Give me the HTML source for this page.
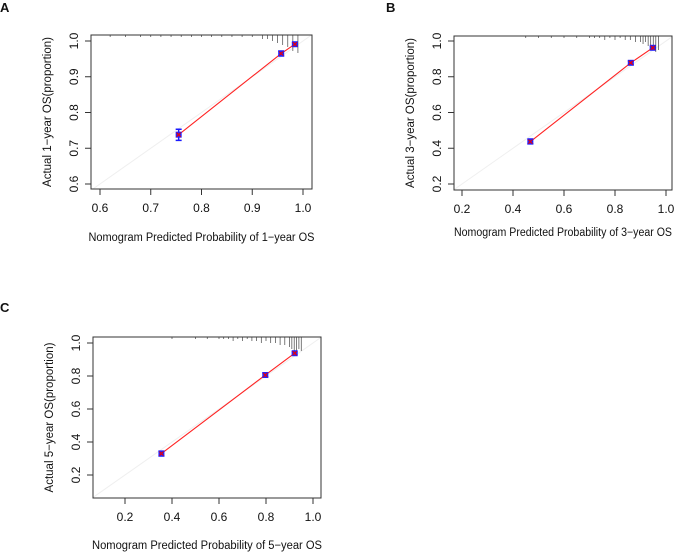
<!DOCTYPE html>
<html><head><meta charset="utf-8">
<style>
body{margin:0;background:#fff;}
svg text{font-family:"Liberation Sans",Arial,sans-serif;fill:#111;}
</style></head>
<body>
<svg id="fig" width="678" height="555" viewBox="0 0 678 555">
<text x="0" y="12" font-size="13" font-weight="bold">A</text>
<text x="386" y="12" font-size="13" font-weight="bold">B</text>
<text x="0" y="312" font-size="13" font-weight="bold">C</text>
</svg>
<script>
// Panel A data
const aLabel = "1";
const aPredicted = [0.755, 0.957, 0.984];
const aObserved = [0.738, 0.965, 0.991];
const aLower = [0.722, 0.958, 0.987];
const aUpper = [0.753, 0.972, 0.995];
const aXTicks = [0.6, 0.7, 0.8, 0.9, 1.0];
const aYTicks = [0.6, 0.7, 0.8, 0.9, 1.0];
const aRug = [0.62,0.65,0.68,0.7,0.72,0.74,0.76,0.78,0.8,0.82,0.84,0.86,0.88,0.9,0.92,0.93,0.94,0.95,0.96,0.97,0.98,0.99];
const aRugLen = [1,1,1,1,1,1,1,1,1,1,1,1,1,1,2,2,3,4,5,6,8,9];
// Panel B data
const bLabel = "3";
const bPredicted = [0.468, 0.862, 0.948];
const bObserved = [0.437, 0.878, 0.962];
const bLower = [0.425, 0.868, 0.955];
const bUpper = [0.452, 0.888, 0.968];
const bXTicks = [0.2, 0.4, 0.6, 0.8, 1.0];
const bYTicks = [0.2, 0.4, 0.6, 0.8, 1.0];
const bRug = [0.45,0.5,0.55,0.6,0.65,0.7,0.72,0.74,0.76,0.78,0.8,0.82,0.84,0.86,0.88,0.9,0.91,0.92,0.93,0.94,0.95,0.96,0.97];
const bRugLen = [1,1,1,1,1,1,1,1,2,1,2,1,2,2,3,3,4,3,5,6,7,8,7];
// Panel C data
const cLabel = "5";
const cPredicted = [0.355, 0.797, 0.922];
const cObserved = [0.330, 0.806, 0.938];
const cLower = [0.315, 0.795, 0.930];
const cUpper = [0.345, 0.818, 0.946];
const cXTicks = [0.2, 0.4, 0.6, 0.8, 1.0];
const cYTicks = [0.2, 0.4, 0.6, 0.8, 1.0];
const cRug = [0.4,0.5,0.55,0.6,0.62,0.64,0.66,0.68,0.7,0.72,0.74,0.76,0.78,0.8,0.82,0.84,0.86,0.88,0.9,0.91,0.92,0.93,0.94,0.95];
const cRugLen = [1,1,1,1,1,1,2,1,2,1,2,2,3,2,3,3,4,4,5,6,8,8,6,7];

const NS = "http://www.w3.org/2000/svg";
const svg = document.getElementById('fig');
function mk(tag, attrs, parent){const e=document.createElementNS(NS,tag);for(const k in attrs)e.setAttribute(k,attrs[k]);(parent||svg).appendChild(e);return e;}

function panel(name, box, xDom, xPx, yDom, yPx, label, pred, obs, lo, hi, xt, yt, rug, rugLen, xTitleY, xTitleW){
  const g = mk('g',{});
  
  
  const X = v => xPx[0] + (v - xDom[0]) / (xDom[1]-xDom[0]) * (xPx[1]-xPx[0]);
  const Y = v => yPx[0] + (v - yDom[0]) / (yDom[1]-yDom[0]) * (yPx[1]-yPx[0]);
  const [L,T,R,B] = box;
  const lo0 = Math.max((L - xPx[0])/(xPx[1]-xPx[0])*(xDom[1]-xDom[0])+xDom[0], (B - yPx[0])/(yPx[1]-yPx[0])*(yDom[1]-yDom[0])+yDom[0]);
  const hi0 = Math.min((R - xPx[0])/(xPx[1]-xPx[0])*(xDom[1]-xDom[0])+xDom[0], (T - yPx[0])/(yPx[1]-yPx[0])*(yDom[1]-yDom[0])+yDom[0]);
  const diag = mk('line',{x1:X(lo0),y1:Y(lo0),x2:X(hi0),y2:Y(hi0),stroke:'#efefef','stroke-width':1},g);
  
  
  rug.forEach((v,i)=>{
    const r = mk('line',{x1:X(v),x2:X(v),y1:T,y2:T+rugLen[i]*2,stroke:'#444','stroke-width':0.7},g);
    
    
  });
  const pts = pred.map((p,i)=>X(p)+','+Y(obs[i])).join(' ');
  const pl = mk('polyline',{points:pts,fill:'none',stroke:'#f22','stroke-width':1.1},g);
  
  
  pred.forEach((p,i)=>{
    const x=X(p);
    const eb = mk('path',{d:`M${x},${Y(lo[i])}V${Y(hi[i])}M${x-3},${Y(lo[i])}H${x+3}M${x-3},${Y(hi[i])}H${x+3}`,stroke:'#1a1aff','stroke-width':1.5,fill:'none'},g);
    
    
    const y=Y(obs[i]);
    const pt = mk('rect',{x:x-3,y:y-3,width:6,height:6,fill:'#2020ff'},g);
    
    
    mk('path',{d:`M${x-2},${y-2}L${x+2},${y+2}M${x+2},${y-2}L${x-2},${y+2}`,stroke:'#e00','stroke-width':1.2},g);
  });
  const bx = mk('rect',{x:L,y:T,width:R-L,height:B-T,fill:'none',stroke:'#333','stroke-width':1},g);
  
  
  const xa = mk('g',{},g);
  
  
  mk('line',{x1:X(xt[0]),x2:X(xt[xt.length-1]),y1:B,y2:B,stroke:'#333'},xa);
  xt.forEach(v=>{
    mk('line',{x1:X(v),x2:X(v),y1:B,y2:B+6,stroke:'#333'},xa);
    const t = mk('text',{x:X(v),y:B+23,'font-size':12,'text-anchor':'middle'},xa);
    t.textContent = v.toFixed(1);
  });
  const ya = mk('g',{},g);
  
  
  mk('line',{x1:L,x2:L,y1:Y(yt[0]),y2:Y(yt[yt.length-1]),stroke:'#333'},ya);
  yt.forEach(v=>{
    mk('line',{x1:L-6,x2:L,y1:Y(v),y2:Y(v),stroke:'#333'},ya);
    const t = mk('text',{x:L-13,y:Y(v),'font-size':12,'text-anchor':'middle',transform:`rotate(-90 ${L-13} ${Y(v)})`},ya);
    t.textContent = v.toFixed(1);
  });
  const cx = (L+R)/2;
  const xtl = mk('text',{x:cx-xTitleW/2,y:xTitleY,'font-size':11.5,textLength:xTitleW,lengthAdjust:'spacingAndGlyphs'},g);
  xtl.textContent = `Nomogram Predicted Probability of ${label}\u2212year OS`;
  
  
  const ytl = mk('text',{x:L-40,y:(T+B)/2,'font-size':11.5,'text-anchor':'middle',transform:`rotate(-90 ${L-40} ${(T+B)/2})`},g);
  ytl.textContent = `Actual ${label}\u2212year OS(proportion)`;
  
  
}
panel('panel-a',[91,35,312,189],[0.6,1.0],[100,303],[0.6,1.0],[184,41],aLabel,aPredicted,aObserved,aLower,aUpper,aXTicks,aYTicks,aRug,aRugLen,241,226);
panel('panel-b',[454,36,672,190],[0.2,1.0],[462,666],[0.2,1.0],[184,41],bLabel,bPredicted,bObserved,bLower,bUpper,bXTicks,bYTicks,bRug,bRugLen,236,218);
panel('panel-c',[93,337,321,498],[0.2,1.0],[125,313],[0.2,1.0],[475,343],cLabel,cPredicted,cObserved,cLower,cUpper,cXTicks,cYTicks,cRug,cRugLen,549,230);
</script>
</body></html>
